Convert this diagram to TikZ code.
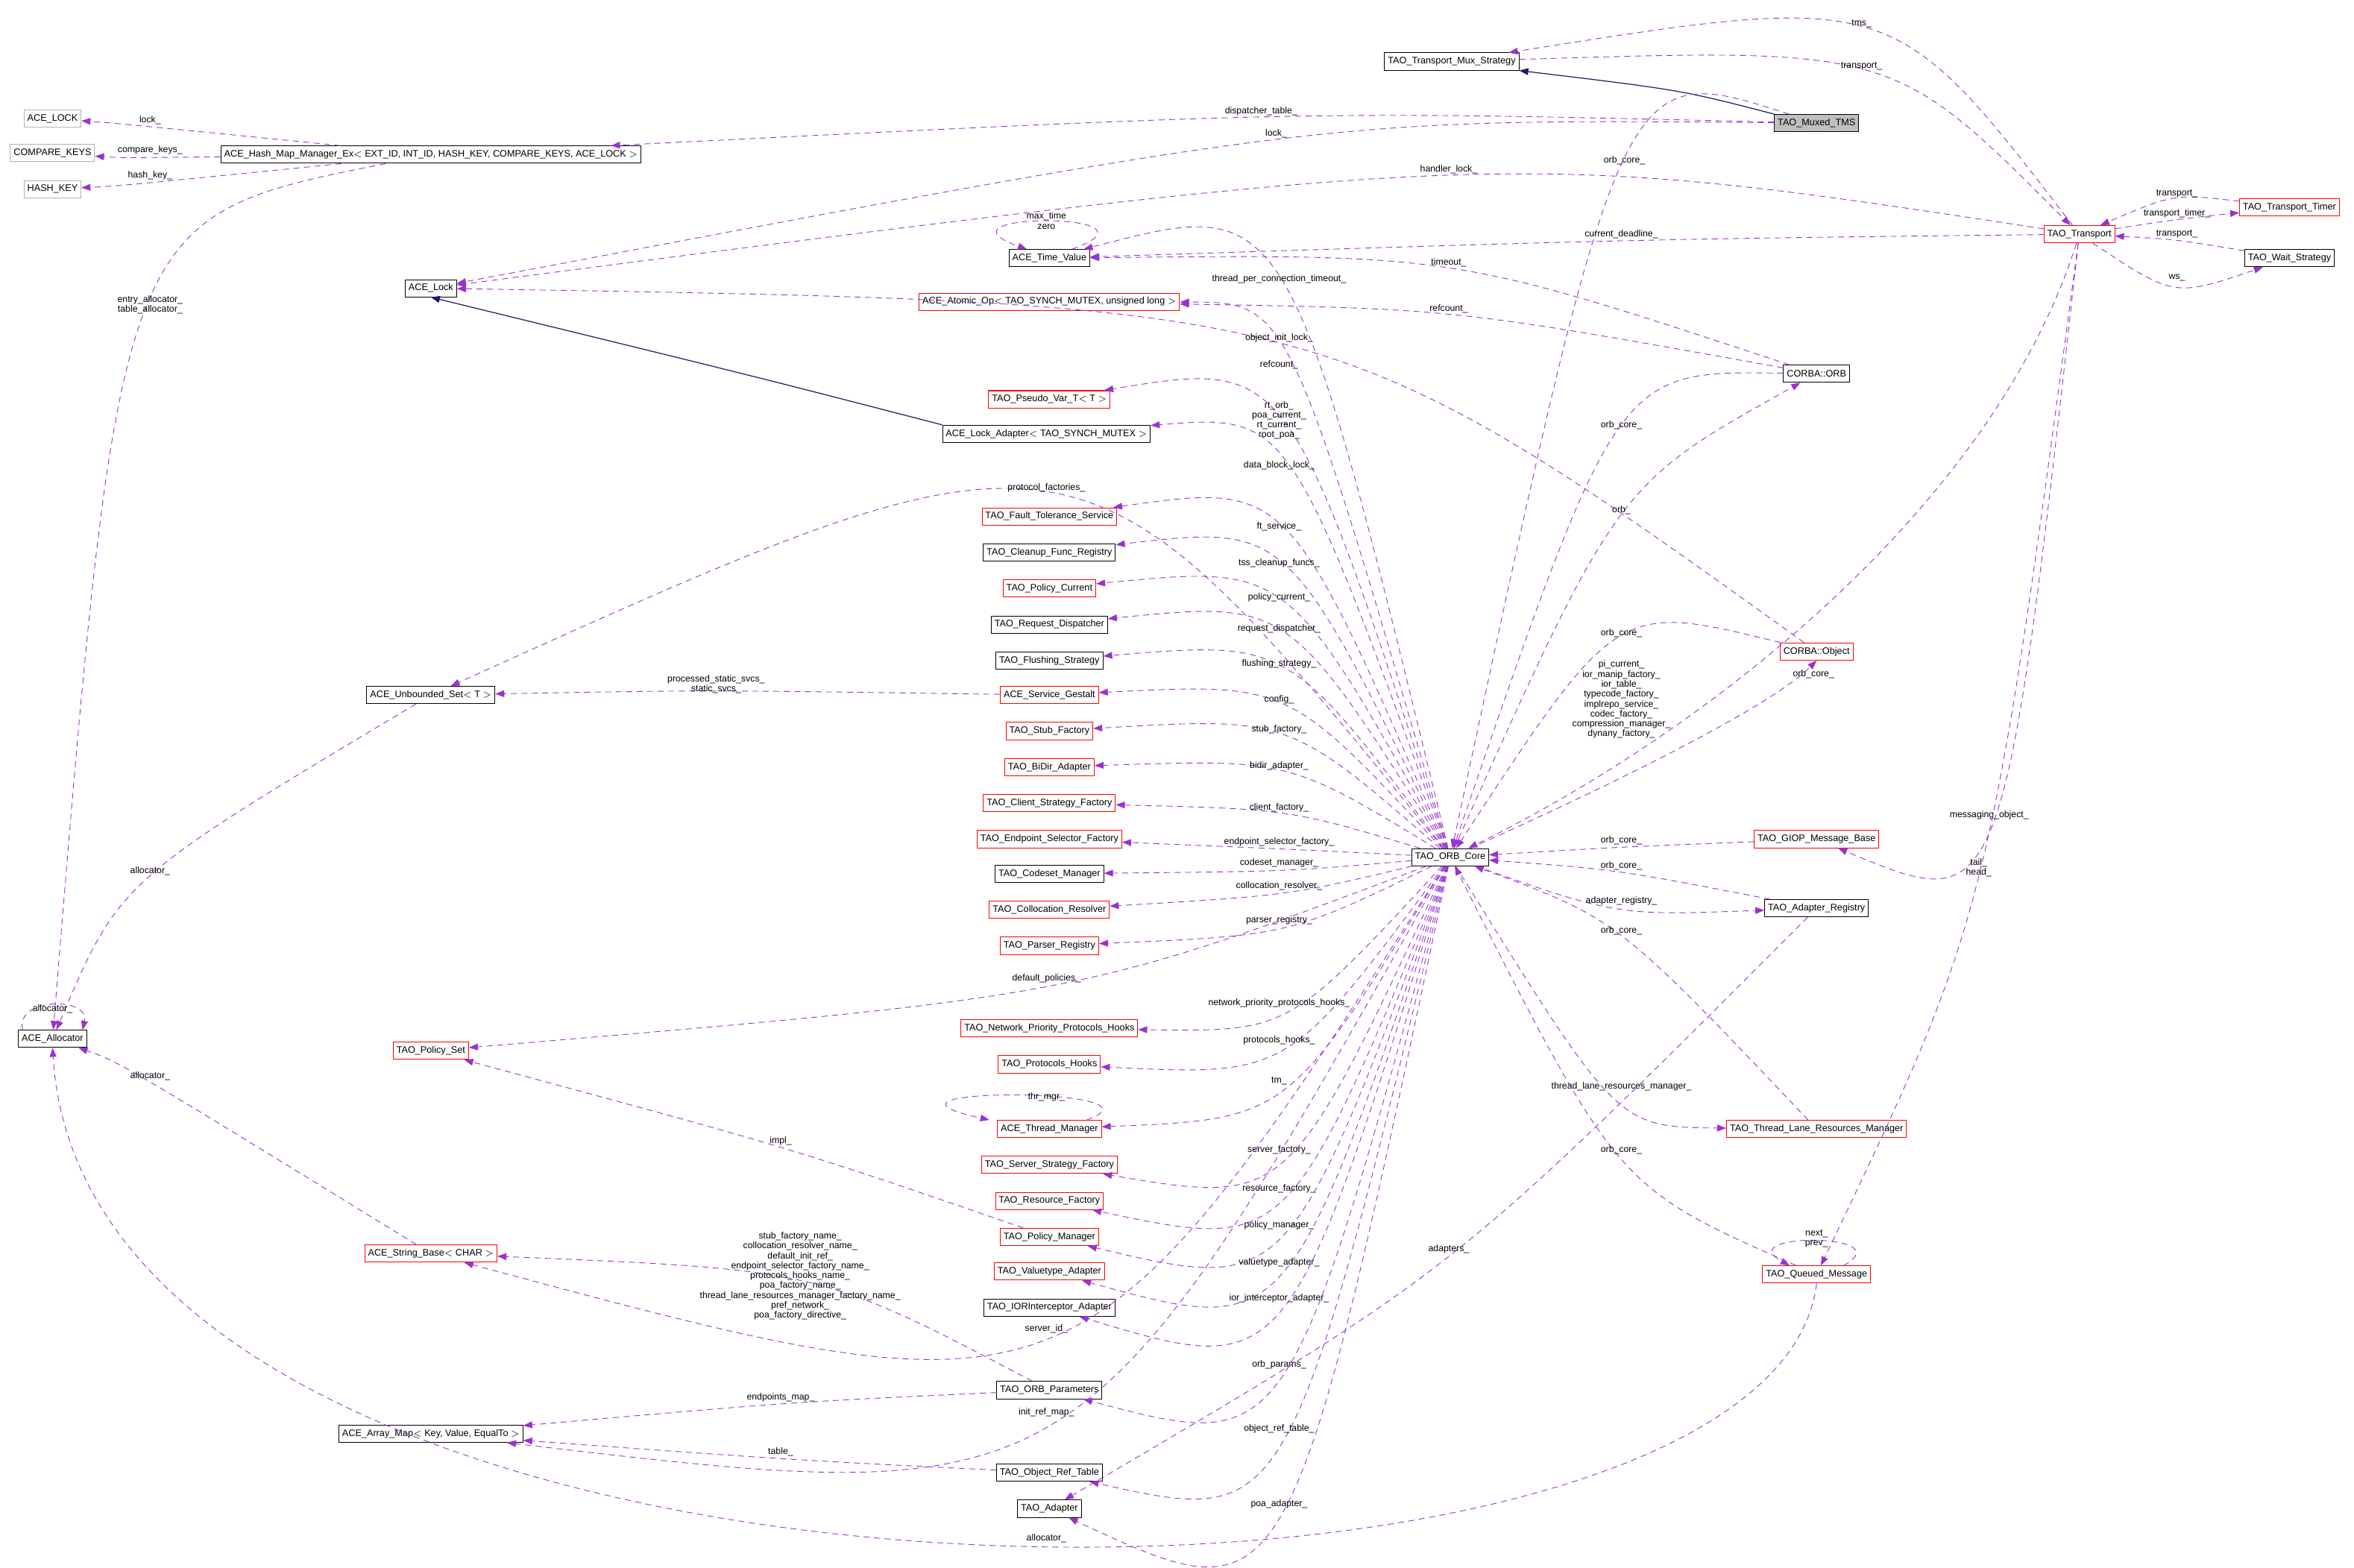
\documentclass[tikz,border=0pt]{standalone}
\usepackage{fontspec}
\setmainfont{Liberation Sans}
\usetikzlibrary{calc,arrows.meta}
\definecolor{rel}{HTML}{9A32CD}
\definecolor{inh}{HTML}{191970}
\tikzset{
 cls/.style={draw=black,line width=0.5pt,font=\fontsize{6.3}{7}\selectfont,inner sep=2.2pt,minimum height=11.5pt},
 inc/.style={cls,draw=red},
 ext/.style={cls,draw=gray!60},
 rel/.style={draw=rel,dashed,dash pattern=on 4pt off 3pt,line width=0.45pt,-{Triangle[length=6pt,width=4.5pt]}},
 inhl/.style={draw=inh,line width=0.6pt,-{Triangle[length=6pt,width=4.5pt]}},
 lbl/.style={font=\fontsize{6.1}{6.6}\selectfont,inner sep=0.5pt,align=center},
}
\newcommand{\E}[5][]{\draw[rel,#1] (#2) .. controls ($1.3333*(#4)+(0,6)-0.16667*(#2)-0.16667*(#3)$) .. (#3); \node[lbl] at (#4) {#5};}
\begin{document}
\begin{tikzpicture}[x=1pt,y=-1pt]
\useasboundingbox (0,0) rectangle (1568,1044.5);
% nodes
\node[cls] (mux) at (967,41) {TAO\_Transport\_Mux\_Strategy};
\node[cls,fill=gray!50] (tms) at (1210,82) {TAO\_Muxed\_TMS};
\node[ext] (acelock) at (35,79) {ACE\_LOCK};
\node[ext] (ckeys) at (35,102) {COMPARE\_KEYS};
\node[ext] (hkey) at (35,126) {HASH\_KEY};
\node[cls] (hmm) at (287,103) {ACE\_Hash\_Map\_Manager\_Ex$<$ EXT\_ID, INT\_ID, HASH\_KEY, COMPARE\_KEYS, ACE\_LOCK $>$};
\node[cls] (lock) at (287,192) {ACE\_Lock};
\node[cls] (tv) at (699,172) {ACE\_Time\_Value};
\node[inc] (atom) at (699,201) {ACE\_Atomic\_Op$<$ TAO\_SYNCH\_MUTEX, unsigned long $>$};
\node[inc] (pseudo) at (699,266) {TAO\_Pseudo\_Var\_T$<$ T $>$};
\node[cls] (ladapt) at (697,289) {ACE\_Lock\_Adapter$<$ TAO\_SYNCH\_MUTEX $>$};
\node[inc] (ft) at (699,344) {TAO\_Fault\_Tolerance\_Service};
\node[cls] (cleanup) at (699,368) {TAO\_Cleanup\_Func\_Registry};
\node[inc] (pcur) at (699,392) {TAO\_Policy\_Current};
\node[cls] (rdisp) at (699,416) {TAO\_Request\_Dispatcher};
\node[cls] (flush) at (699,440) {TAO\_Flushing\_Strategy};
\node[inc] (gestalt) at (699,463) {ACE\_Service\_Gestalt};
\node[inc] (stub) at (699,487) {TAO\_Stub\_Factory};
\node[inc] (bidir) at (699,511) {TAO\_BiDir\_Adapter};
\node[inc] (csf) at (699,535) {TAO\_Client\_Strategy\_Factory};
\node[inc] (esf) at (699,559) {TAO\_Endpoint\_Selector\_Factory};
\node[cls] (codeset) at (699,582) {TAO\_Codeset\_Manager};
\node[inc] (coll) at (699,606) {TAO\_Collocation\_Resolver};
\node[inc] (parser) at (699,630) {TAO\_Parser\_Registry};
\node[inc] (nph) at (699,685) {TAO\_Network\_Priority\_Protocols\_Hooks};
\node[inc] (ph) at (699,709) {TAO\_Protocols\_Hooks};
\node[inc] (thm) at (699,752) {ACE\_Thread\_Manager};
\node[inc] (ssf) at (699,776) {TAO\_Server\_Strategy\_Factory};
\node[inc] (resf) at (699,800) {TAO\_Resource\_Factory};
\node[inc] (pman) at (699,824) {TAO\_Policy\_Manager};
\node[inc] (vta) at (699,847) {TAO\_Valuetype\_Adapter};
\node[cls] (iora) at (699,871) {TAO\_IORInterceptor\_Adapter};
\node[cls] (params) at (699,926) {TAO\_ORB\_Parameters};
\node[cls] (ort) at (699,981) {TAO\_Object\_Ref\_Table};
\node[cls] (adapter) at (699,1005) {TAO\_Adapter};
\node[cls] (uset) at (287,463) {ACE\_Unbounded\_Set$<$ T $>$};
\node[cls] (alloc) at (35,692) {ACE\_Allocator};
\node[inc] (pset) at (287,700) {TAO\_Policy\_Set};
\node[inc] (sbase) at (287,835) {ACE\_String\_Base$<$ CHAR $>$};
\node[cls] (amap) at (287,955) {ACE\_Array\_Map$<$ Key, Value, EqualTo $>$};
\node[cls] (core) at (966,571) {TAO\_ORB\_Core};
\node[cls] (orb) at (1210,249) {CORBA::ORB};
\node[inc] (obj) at (1210,434) {CORBA::Object};
\node[inc] (giop) at (1210,559) {TAO\_GIOP\_Message\_Base};
\node[cls] (areg) at (1210,605) {TAO\_Adapter\_Registry};
\node[inc] (tlrm) at (1210,752) {TAO\_Thread\_Lane\_Resources\_Manager};
\node[inc] (qm) at (1210,849) {TAO\_Queued\_Message};
\node[inc] (tr) at (1385,156) {TAO\_Transport};
\node[inc] (timer) at (1525,138) {TAO\_Transport\_Timer};
\node[cls] (ws) at (1525,172) {TAO\_Wait\_Strategy};
% inheritance
\draw[inhl] (tms.north west) .. controls (1120,60) .. (mux.south east);
\draw[inhl] (ladapt.north west) .. controls (500,250) .. (lock.south);
% relations
\E{tms}{hmm}{840,74}{dispatcher\_table\_}
\E{tms}{lock}{850,89}{lock\_}
\E{tms}{core}{1082,107}{orb\_core\_}
\E{hmm}{acelock}{100,80}{lock\_}
\E{hmm}{ckeys}{100,100}{compare\_keys\_}
\E{hmm}{hkey}{100,117}{hash\_key\_}
\E{hmm}{alloc}{100,203}{entry\_allocator\_\\table\_allocator\_}
\E{tr}{mux}{1240,16}{tms\_}
\E{mux}{tr}{1240,44}{transport\_}
\E{tr}{lock}{965,113}{handler\_lock\_}
\E{tr}{tv}{1080,156}{current\_deadline\_}
\E{timer}{tr}{1450,129}{transport\_}
\E{tr}{timer}{1450,142}{transport\_timer\_}
\E{ws}{tr}{1450,156}{transport\_}
\E{tr}{ws}{1450,185}{ws\_}
\draw[rel] (tr) .. controls (1330,330) and (1150,480) .. (core);
\E{tr}{giop}{1325,543}{messaging\_object\_}
\E{tr}{qm}{1318,578}{tail\_\\head\_}
\draw[rel] ([xshift=15]tv.north) .. controls +(70,-25) and +(-70,-25) .. ([xshift=-15]tv.north);
\node[lbl] at (697,147) {max\_time\\zero};
\E{core}{tv}{852,186}{thread\_per\_connection\_timeout\_}
\E{orb}{tv}{965,175}{timeout\_}
\E{orb}{atom}{965,206}{refcount\_}
\E{core}{atom}{852,243}{refcount\_}
\E{obj}{lock}{852,225}{object\_init\_lock\_}
\E{core}{pseudo}{852,280}{rt\_orb\_\\poa\_current\_\\rt\_current\_\\root\_poa\_}
\E{core}{ladapt}{852,310}{data\_block\_lock\_}
\E{core}{uset}{697,325}{protocol\_factories\_}
\E{core}{ft}{852,351}{ft\_service\_}
\E{core}{cleanup}{852,375}{tss\_cleanup\_funcs\_}
\E{core}{pcur}{852,398}{policy\_current\_}
\E{core}{rdisp}{852,419}{request\_dispatcher\_}
\E{core}{flush}{852,442}{flushing\_strategy\_}
\E{core}{gestalt}{852,466}{config\_}
\E{core}{stub}{852,486}{stub\_factory\_}
\E{core}{bidir}{852,510}{bidir\_adapter\_}
\E{core}{csf}{852,538}{client\_factory\_}
\E{core}{esf}{852,561}{endpoint\_selector\_factory\_}
\E{core}{codeset}{852,575}{codeset\_manager\_}
\E{core}{coll}{852,590}{collocation\_resolver\_}
\E{core}{parser}{852,613}{parser\_registry\_}
\E{core}{pset}{697,652}{default\_policies\_}
\E{core}{nph}{852,668}{network\_priority\_protocols\_hooks\_}
\E{core}{ph}{852,693}{protocols\_hooks\_}
\E{core}{thm}{852,720}{tm\_}
\draw[rel] ([xshift=25]thm.north) .. controls +(60,-22) and +(-100,-22) .. ([xshift=-40]thm.north);
\node[lbl] at (697,731) {thr\_mgr\_};
\E{core}{ssf}{852,766}{server\_factory\_}
\E{core}{resf}{852,792}{resource\_factory\_}
\E{core}{pman}{852,816}{policy\_manager\_}
\E{core}{vta}{852,841}{valuetype\_adapter\_}
\E{core}{iora}{852,865}{ior\_interceptor\_adapter\_}
\E{core}{sbase}{697,885}{server\_id\_}
\E{core}{params}{852,909}{orb\_params\_}
\E{core}{amap}{697,941}{init\_ref\_map\_}
\E{core}{ort}{852,952}{object\_ref\_table\_}
\E{core}{adapter}{852,1002}{poa\_adapter\_}
\E{gestalt}{uset}{477,456}{processed\_static\_svcs\_\\static\_svcs\_}
\E{uset}{alloc}{100,580}{allocator\_}
\draw[rel] ([xshift=-20]alloc.north) .. controls +(-5,-22) and +(5,-22) .. ([xshift=20]alloc.north);
\node[lbl] at (35,672) {allocator\_};
\E{sbase}{alloc}{100,717}{allocator\_}
\E{pman}{pset}{520,760}{impl\_}
\E{params}{sbase}{533,850}{stub\_factory\_name\_\\collocation\_resolver\_name\_\\default\_init\_ref\_\\endpoint\_selector\_factory\_name\_\\protocols\_hooks\_name\_\\poa\_factory\_name\_\\thread\_lane\_resources\_manager\_factory\_name\_\\pref\_network\_\\poa\_factory\_directive\_}
\E{params}{amap}{520,931}{endpoints\_map\_}
\E{ort}{amap}{520,967}{table\_}
\E{core}{orb}{1080,340}{orb\_}
\E{orb}{core}{1080,283}{orb\_core\_}
\E{obj}{core}{1080,422}{orb\_core\_}
\draw[rel] (core) .. controls (1080,520) and (1180,470) .. (obj.south);
\node[lbl] at (1080,466) {pi\_current\_\\ior\_manip\_factory\_\\ior\_table\_\\typecode\_factory\_\\implrepo\_service\_\\codec\_factory\_\\compression\_manager\_\\dynany\_factory\_};
\node[lbl] at (1208,449) {orb\_core\_};
\E{giop}{core}{1080,560}{orb\_core\_}
\E{areg}{core}{1080,577}{orb\_core\_}
\E{core}{areg}{1080,600}{adapter\_registry\_}
\E{tlrm}{core}{1080,620}{orb\_core\_}
\E{core}{tlrm}{1080,724}{thread\_lane\_resources\_manager\_}
\E{qm}{core}{1080,766}{orb\_core\_}
\draw[rel] ([xshift=18]qm.north) .. controls +(40,-22) and +(-40,-22) .. ([xshift=-18]qm.north);
\node[lbl] at (1210,825) {next\_\\prev\_};
\draw[rel] (qm.south) .. controls (1180,1110) and (60,1110) .. (alloc.south);
\node[lbl] at (697,1025) {allocator\_};
\E{areg}{adapter}{965,832}{adapters\_}
\end{tikzpicture}
\end{document}
